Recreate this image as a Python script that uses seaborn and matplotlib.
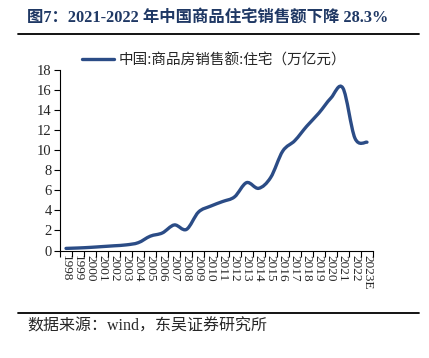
import numpy as np
import pandas as pd
import matplotlib
matplotlib.use("Agg")
import matplotlib.pyplot as plt
import seaborn as sns
from matplotlib.path import Path
from matplotlib.patches import PathPatch
from matplotlib.lines import Line2D

# data (万亿元)
years = ["1998", "1999", "2000", "2001", "2002", "2003", "2004", "2005", "2006",
         "2007", "2008", "2009", "2010", "2011", "2012", "2013", "2014", "2015",
         "2016", "2017", "2018", "2019", "2020", "2021", "2022", "2023E"]
sales = [0.21, 0.25, 0.31, 0.39, 0.47, 0.56, 0.78, 1.43, 1.75,
         2.55, 2.1, 3.83, 4.42, 4.88, 5.35, 6.77, 6.2, 7.28,
         9.91, 10.95, 12.4, 13.7, 15.2, 16.2, 11.2, 10.8]
legend_label = "中国:商品房销售额:住宅（万亿元）"
title = "图7：2021-2022 年中国商品住宅销售额下降 28.3%"
source = "数据来源：wind，东吴证券研究所"

LINE = "#2B4C86"
TITLE = "#1F3864"

sns.set_theme(style="ticks")
plt.rcParams["font.family"] = ["Liberation Serif", "Noto Sans CJK SC", "DejaVu Sans"]

fig = plt.figure(figsize=(4.29, 3.58), dpi=100)
ax = fig.add_axes([60 / 429, 1 - 250.5 / 358, 313 / 429, 180.5 / 358])

df = pd.DataFrame({"year": years, "sales": sales})
df["pos"] = np.arange(len(df))

sns.lineplot(data=df, x="pos", y="sales", ax=ax, color=LINE, lw=2.4,
             label=legend_label)
handles, labels = ax.get_legend_handles_labels()
ax.get_legend().remove()
fig.legend(handles, labels, loc="center", bbox_to_anchor=(214 / 429, 1 - 60 / 358),
           frameon=False, handlelength=2.2, handletextpad=0.3,
           prop={"family": ["Noto Sans CJK SC"], "size": 10.5})

# smoothed line (Excel-like bezier through the data points)
x = df["pos"].to_numpy(dtype=float)
y = df["sales"].to_numpy(dtype=float)
n = len(x)
verts = [(x[0], y[0])]
codes = [Path.MOVETO]
for i in range(n - 1):
    p = max(i - 1, 0)
    q = min(i + 2, n - 1)
    c1 = (x[i] + (x[i + 1] - x[p]) / 6, y[i] + (y[i + 1] - y[p]) / 6)
    c2 = (x[i + 1] - (x[q] - x[i]) / 6, y[i + 1] - (y[q] - y[i]) / 6)
    verts += [c1, c2, (x[i + 1], y[i + 1])]
    codes += [Path.CURVE4] * 3
ax.lines[0].set_visible(False)
ax.add_patch(PathPatch(Path(verts, codes), facecolor="none", edgecolor=LINE,
                       lw=2.4, capstyle="round", joinstyle="round"))

ax.set_xlim(-0.5, n - 0.5)
ax.set_ylim(0, 18)
ax.set_xticks(np.arange(n))
ax.set_xticklabels(years, rotation=270, ha="center", va="top", fontsize=9.5)
ax.set_xticks(np.arange(-0.5, n), minor=True)
ax.tick_params(axis="x", which="major", length=0, pad=3)
ax.tick_params(axis="x", which="minor", length=4, width=0.8, color="black")
ax.set_yticks(np.arange(0, 19, 2))
ax.tick_params(axis="y", length=4, width=0.8, color="black", labelsize=10.5, pad=2)
ax.set_xlabel("")
ax.set_ylabel("")
sns.despine(ax=ax)
for s in ["left", "bottom"]:
    ax.spines[s].set_color("black")
    ax.spines[s].set_linewidth(0.8)

fig.text(27 / 429, 1 - 18 / 358, title, fontsize=11.8, fontweight="bold",
         color=TITLE, ha="left", va="center")
fig.add_artist(Line2D([18 / 429, 419 / 429], [1 - 34 / 358] * 2,
                      color="black", lw=1.3, transform=fig.transFigure))
fig.add_artist(Line2D([18 / 429, 419 / 429], [1 - 313 / 358] * 2,
                      color="black", lw=1.3, transform=fig.transFigure))
fig.text(27 / 429, 1 - 327 / 358, source, fontsize=11.5, ha="left", va="center")

fig.savefig("out.png", dpi=100)
